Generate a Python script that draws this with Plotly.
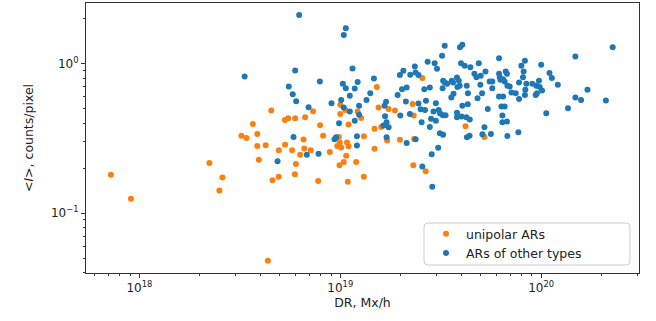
import plotly.graph_objects as go

# DR values in units of 1e18 Mx/h, <I> in counts/pixel
unipolar_dr = [0.721, 0.907, 2.23, 2.59, 2.50, 4.36, 4.53, 3.67, 3.22, 3.41, 3.86, 3.86, 4.25, 3.93,
               4.60, 4.94, 4.94, 25.6, 15.2, 15.5, 17.4, 18.7, 10.0, 10.6, 10.0, 12.2, 12.7, 11.0,
               22.9, 23.2, 42.0, 5.30, 5.50, 5.96, 6.68, 7.32, 7.93, 8.21, 6.56, 5.31, 6.62, 13.1,
               14.8, 16.0, 17.1, 19.8, 23.3, 9.83, 9.94, 9.66, 10.1, 10.8, 11.0, 14.8, 5.76, 7.13,
               6.31, 6.01, 5.94, 8.87, 10.7, 10.4, 9.91, 12.0, 10.9, 13.1, 7.76, 23.1, 26.6, 52.2]
unipolar_I = [0.181, 0.125, 0.217, 0.173, 0.142, 0.048, 0.486, 0.396, 0.330, 0.319, 0.339, 0.282, 0.285, 0.228,
              0.166, 0.175, 0.264, 0.802, 0.698, 0.509, 0.499, 0.486, 0.531, 0.491, 0.462, 0.479, 0.434, 0.392,
              0.539, 0.450, 0.382, 0.421, 0.432, 0.432, 0.439, 0.482, 0.388, 0.330, 0.311, 0.287, 0.271, 0.327,
              0.368, 0.378, 0.307, 0.310, 0.314, 0.324, 0.297, 0.282, 0.275, 0.297, 0.280, 0.270, 0.264, 0.264,
              0.246, 0.213, 0.182, 0.257, 0.242, 0.220, 0.209, 0.220, 0.162, 0.175, 0.164, 0.209, 0.191, 0.324]

other_dr = [3.34, 4.87, 6.24, 10.65, 10.4, 5.96, 5.54, 5.80, 6.03, 7.91, 11.5, 10.3, 10.65, 12.2, 11.8,
            11.15, 10.1, 9.04, 14.7, 14.1, 13.5, 12.4, 10.4, 11.15, 12.4, 11.8, 9.86, 16.9, 16.6, 16.7,
            17.0, 16.4, 17.4, 17.0, 5.85, 6.95, 12.1, 12.1, 9.36, 9.53, 19.3, 20.3, 21.4, 19.8, 20.6,
            22.3, 23.5, 23.7, 24.5, 27.2, 29.5, 30.3, 32.1, 33.1, 39.4, 40.5, 39.9, 41.6, 26.2, 27.9,
            32.3, 32.5, 33.1, 34.0, 35.9, 36.4, 38.1, 38.9, 39.3, 38.3, 36.6, 35.7, 42.6, 44.4, 21.2,
            24.5, 26.7, 29.9, 25.1, 22.2, 19.9, 26.4, 29.1, 30.9, 31.4, 32.4, 33.4, 38.1, 40.1, 40.5,
            43.1, 44.1, 28.3, 29.9, 25.4, 27.9, 31.3, 32.5, 21.4, 30.7, 42.7, 23.7, 7.79, 6.81, 28.5,
            25.6, 28.7, 38.1, 42.4, 43.2, 44.0,
            227.0, 148.0, 61.7, 48.9, 52.8, 46.5, 47.6, 50.0, 49.8, 50.8, 48.2, 55.4, 57.1, 57.1,
            61.7, 62.2, 62.7, 64.6, 66.6, 67.6, 65.8, 67.9, 69.7, 71.1, 74.7, 77.6, 79.7, 83.0,
            81.8, 81.2, 84.4, 83.4, 83.0, 77.6, 90.4, 94.6, 93.9, 95.3, 97.5, 100.0, 98.3, 101.0,
            110.0, 113.0, 121.0, 61.7, 64.6, 63.4, 65.8, 54.2, 106.0, 136.0, 148.0, 158.0, 170.0,
            210.0, 64.1, 64.1, 67.6, 52.2, 56.2, 51.0, 67.9, 77.0]
other_I = [0.822, 0.223, 2.12, 1.73, 1.56, 0.902, 0.704, 0.626, 0.562, 0.761, 0.930, 0.734, 0.687, 0.754, 0.683,
           0.610, 0.573, 0.545, 0.797, 0.636, 0.573, 0.523, 0.509, 0.479, 0.455, 0.416, 0.400, 0.556, 0.523, 0.446,
           0.406, 0.386, 0.376, 0.322, 0.324, 0.512, 0.327, 0.284, 0.312, 0.322, 0.619, 0.676, 0.693, 0.840, 0.898,
           0.844, 0.959, 0.874, 0.840, 1.03, 1.01, 0.926, 1.13, 1.32, 1.29, 1.34, 1.01, 0.970, 0.676, 0.693,
           0.687, 0.769, 0.749, 0.734, 0.769, 0.749, 0.809, 0.769, 0.712, 0.698, 0.629, 0.594, 0.712, 0.947, 0.559,
           0.542, 0.565, 0.545, 0.497, 0.462, 0.450, 0.491, 0.479, 0.491, 0.464, 0.453, 0.453, 0.471, 0.443, 0.523,
           0.535, 0.424, 0.428, 0.415, 0.406, 0.378, 0.343, 0.335, 0.295, 0.274, 0.322, 0.312, 0.250, 0.246, 0.248,
           0.205, 0.150, 0.439, 0.439, 0.636, 0.330,
           1.29, 1.12, 1.09, 1.01, 0.888, 0.857, 0.814, 0.831, 0.723, 0.636, 0.589, 0.761, 0.761, 0.687,
           0.857, 0.814, 0.781, 0.789, 0.888, 0.857, 0.761, 0.712, 0.704, 0.642, 0.636, 0.749, 0.970, 1.05,
           0.888, 0.814, 0.734, 0.669, 0.619, 0.582, 0.734, 0.712, 0.619, 0.636, 0.769, 0.985, 0.698, 0.662,
           0.866, 0.802, 0.723, 0.603, 0.603, 0.517, 0.517, 0.499, 0.467, 0.504, 0.594, 0.573, 0.669,
           0.567, 0.450, 0.406, 0.410, 0.376, 0.339, 0.338, 0.329, 0.348]

series_names = ["unipolar ARs", "ARs of other types"]
series_colors = ["#ff7f0e", "#1f77b4"]

x_major = [1e18, 1e19, 1e20]
x_major_text = ["10<sup>18</sup>", "10<sup>19</sup>", "10<sup>20</sup>"]
y_major = [0.1, 1.0]
y_major_text = ["10<sup>\u22121</sup>", "10<sup>0</sup>"]

unit = 1e18
x_minor = [float(m) * 10.0 ** p for p in (17, 18, 19, 20) for m in range(2, 10)]
y_minor = [float(m) * 10.0 ** p for p in (-2, -1, 0) for m in range(2, 10)]

fig = go.Figure()
fig.add_trace(go.Scatter(x=[v * unit for v in unipolar_dr], y=unipolar_I, mode="markers",
                         name=series_names[0], marker=dict(color=series_colors[0], size=6)))
fig.add_trace(go.Scatter(x=[v * unit for v in other_dr], y=other_I, mode="markers",
                         name=series_names[1], marker=dict(color=series_colors[1], size=6)))

W, H = 656, 321
L, R, T, B = 86, 17, 3, 48
pw, ph = W - L - R, H - T - B

def px(x):
    return (x - L) / pw

def py(y):
    return (H - B - y) / ph

# legend frame with rounded corners
x0, x1, y0, y1 = px(424), px(630), py(265), py(223)
rx, ry = 4 / pw, 4 / ph
path = (f"M {x0+rx},{y0} L {x1-rx},{y0} Q {x1},{y0} {x1},{y0+ry} L {x1},{y1-ry} "
        f"Q {x1},{y1} {x1-rx},{y1} L {x0+rx},{y1} Q {x0},{y1} {x0},{y1-ry} "
        f"L {x0},{y0+ry} Q {x0},{y0} {x0+rx},{y0} Z")

axis_common = dict(type="log", showgrid=False, zeroline=False, showline=True, linecolor="#333",
                   linewidth=1, mirror=True, ticks="outside", ticklen=4, tickwidth=1, tickcolor="#333",
                   tickfont=dict(family="DejaVu Sans", size=12, color="#222"))

fig.update_layout(
    width=W, height=H,
    margin=dict(l=L, r=R, t=T, b=B, autoexpand=False),
    paper_bgcolor="white", plot_bgcolor="white",
    font=dict(family="DejaVu Sans", size=12, color="#222"),
    shapes=[dict(type="path", path=path, xref="paper", yref="paper", fillcolor="white",
                 line=dict(color="#cccccc", width=1), layer="below")],
    legend=dict(x=px(426), y=py(219), xanchor="left", yanchor="top", bgcolor="rgba(0,0,0,0)",
                borderwidth=0, font=dict(family="DejaVu Sans", size=12.5, color="#222"),
                itemsizing="trace"),
    xaxis=dict(axis_common, range=[17.734, 20.487], tickvals=x_major, ticktext=x_major_text,
               minor=dict(tickvals=x_minor, ticks="outside", ticklen=2, tickcolor="#333"),
               title=dict(text="DR, Mx/h", font=dict(family="DejaVu Sans", size=12.5), standoff=3)),
    yaxis=dict(axis_common, range=[-1.4007, 0.407], tickvals=y_major, ticktext=y_major_text,
               minor=dict(tickvals=y_minor, ticks="outside", ticklen=2, tickcolor="#333"),
               title=dict(text="&lt;<i>I</i>&gt;, counts/pixel", font=dict(family="DejaVu Sans", size=12.5),
                          standoff=14)),
)

fig.write_html("out.html", config={"displayModeBar": False},
               post_script="document.body.style.margin='0px';document.body.style.overflow='hidden';")
